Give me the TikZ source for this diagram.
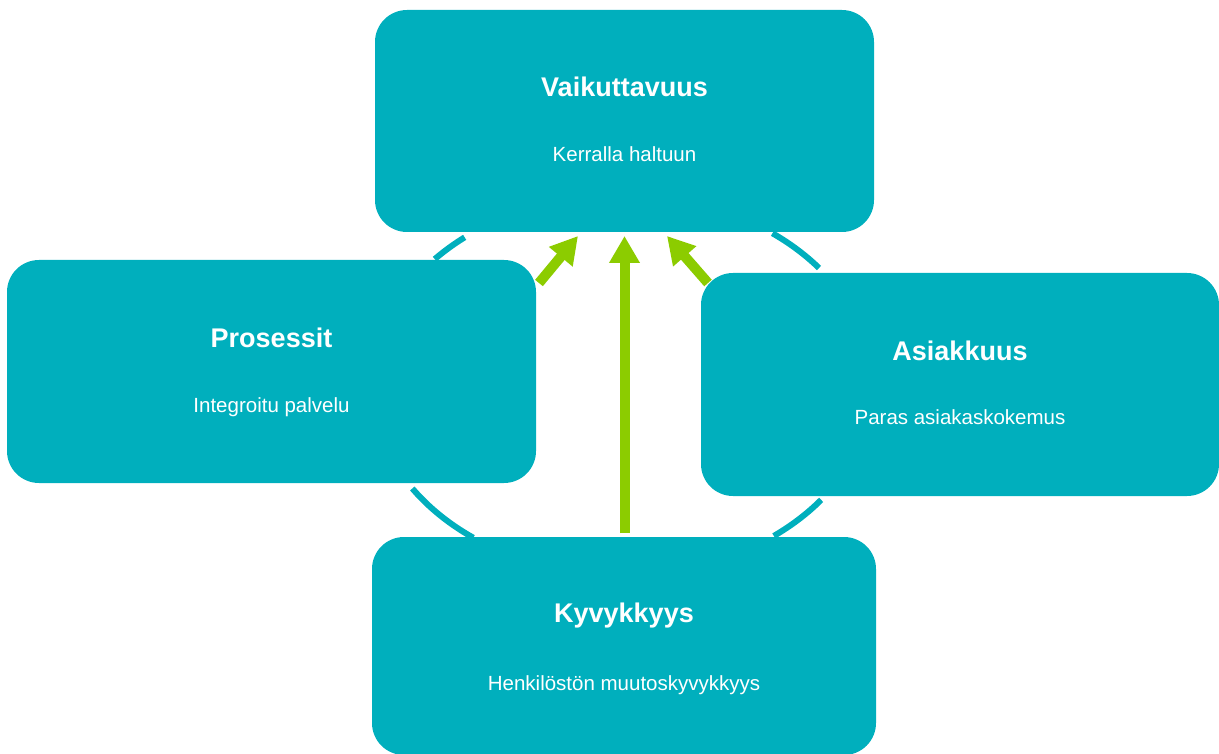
\documentclass[tikz,border=0pt]{standalone}
\usepackage{fontspec}
\setmainfont{Liberation Sans}
\usetikzlibrary{arrows.meta}
\definecolor{teal1}{RGB}{0,175,189}
\definecolor{lime1}{RGB}{140,204,0}
\begin{document}
\begin{tikzpicture}[x=1pt,y=-1pt,
  box/.style={rectangle, rounded corners=32pt, fill=teal1, draw=none, inner sep=0pt},
  ttl/.style={anchor=base, text=white, font=\fontsize{27}{30}\selectfont\bfseries},
  sub/.style={anchor=base, text=white, font=\fontsize{20.5}{24}\selectfont},
  ring/.style={draw=teal1, line width=6pt},
  garrow/.style={draw=lime1, line width=10pt, -{Triangle[width=29pt,length=27pt]}}]
\useasboundingbox (0,0) rectangle (1219,754);
\clip (0,0) rectangle (1219,754);
% ring segments between the boxes
\draw[ring] plot[domain=129:138.5, samples=20] ({622+250*cos(\x)}, {385-190*sin(\x)});
\draw[ring] plot[domain=38:53, samples=20] ({622+250*cos(\x)}, {385-190*sin(\x)});
\draw[ring] plot[domain=213:233.5, samples=30] ({622+250*cos(\x)}, {385-190*sin(\x)});
\draw[ring] plot[domain=-52.6:-37.2, samples=20] ({622+250*cos(\x)}, {385-190*sin(\x)});
\node[box, minimum width=499pt, minimum height=222pt] (top) at (624.5,121) {};
\node[box, minimum width=529pt, minimum height=223pt] (left) at (271.5,371.5) {};
\node[box, minimum width=518pt, minimum height=223pt] (right) at (960,384.5) {};
\node[box, minimum width=504pt, minimum height=218pt] (bottom) at (624,646) {};
\node[ttl] (topT) at (624.5,97) {Vaikuttavuus};
\node[sub] (topS) at (624.5,162) {Kerralla haltuun};
\node[ttl] (leftT) at (271.5,347) {Prosessit};
\node[sub] (leftS) at (271.5,412) {Integroitu palvelu};
\node[ttl] (rightT) at (960,360) {Asiakkuus};
\node[sub] (rightS) at (960,424) {Paras asiakaskokemus};
\node[ttl] (bottomT) at (624,622) {Kyvykkyys};
\node[sub] (bottomS) at (624,690) {Henkilöstön muutoskyvykkyys};
\coordinate (aL) at (539,283);
\coordinate (tL) at (578,236);
\coordinate (aR) at (708,283);
\coordinate (tR) at (667,236);
\coordinate (aM) at (624.5,533);
\coordinate (tM) at (624.5,236);
\draw[garrow] (aL) -- (tL);
\draw[garrow] (aR) -- (tR);
\draw[garrow] (aM) -- (tM);
\end{tikzpicture}
\end{document}
